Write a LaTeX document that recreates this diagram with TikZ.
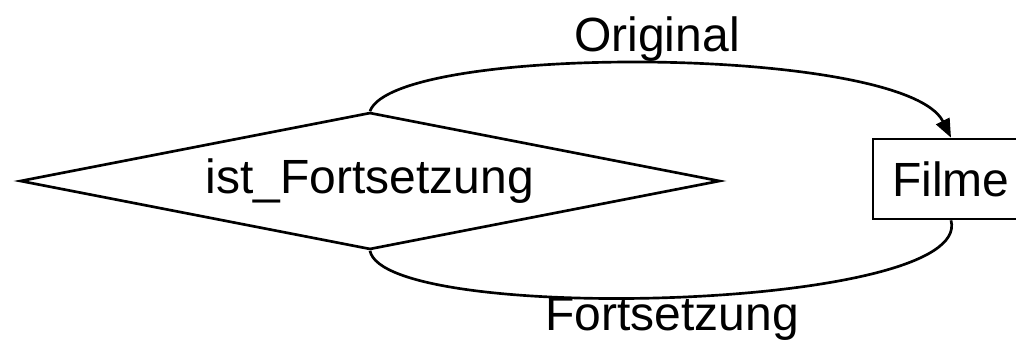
\documentclass[tikz,border=0pt]{standalone}
\usepackage{fontspec}
\setmainfont{Liberation Sans}
\usetikzlibrary{shapes.geometric, arrows.meta}

\begin{document}
\begin{tikzpicture}[
  x=0.75pt, y=0.75pt,
  line width=2pt,
  every node/.style = {font=\fontsize{36}{43}\selectfont},
  relation/.style = {draw, diamond, aspect=5.11, inner sep=0pt, minimum width=525pt, minimum height=102.75pt},
  entity/.style = {draw, rectangle, minimum width=117pt, minimum height=60pt},
  role/.style = {anchor=base, inner sep=0pt}
]
  \useasboundingbox (0,0) rectangle (1016,343);
  % Beziehung und Entitaet
  \node[relation] (fortsetzung) at (370,162) {ist\_Fortsetzung};
  \node[entity] (filme) at (951,164) {Filme};
  % Rollen
  \draw[-{Triangle[length=14pt, width=11pt]}] (fortsetzung.north)
    .. controls (395,300) and (905,298) .. (filme.north);
  \draw (fortsetzung.south) .. controls (385,18) and (975,32) .. (filme.south);
  \node[role] (original) at (657,291) {Original};
  \node[role] (fortsetzunglabel) at (672,13) {Fortsetzung};
\end{tikzpicture}
\end{document}
